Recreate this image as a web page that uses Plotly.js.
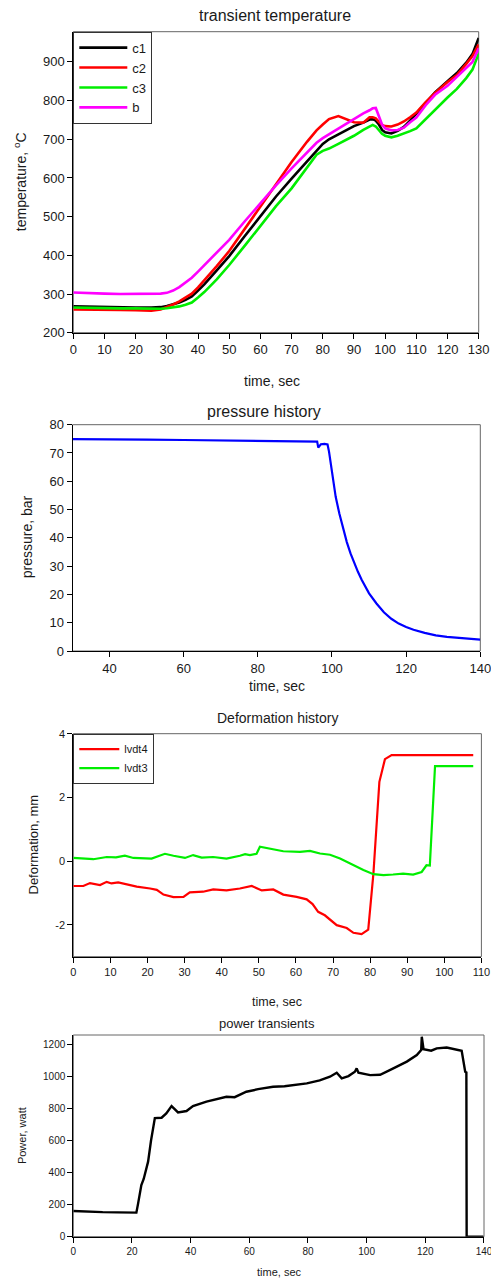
<!DOCTYPE html>
<html>
<head>
<meta charset="utf-8">
<script src="https://cdn.plot.ly/plotly-3.0.1.min.js"></script>
<style>
  html, body { margin: 0; padding: 0; background: #fff; }
  #chart { width: 491px; height: 1279px; }
</style>
</head>
<body>
<div id="chart"></div>
<script>
// ---------- Panel 1: transient temperature ----------
const tempTime = [0,5,10,15,20,25,28,30,32,34,36,38,40,42,46,50,55,60,65,70,75,78,80,82,85,88,90,93,95,96,97,98,99,100,102,104,106,108,110,113,116,120,123,126,128,130];
const tempC1 = [268,267,266,266,265,265,266,269,273,278,285,294,309,325,361,398,450,502,552,598,643,672,688,700,713,727,734,743,751,752,748,738,724,718,715,722,732,748,767,795,821,850,871,898,920,962];
const tempC2 = [260,260,259,259,258,257,260,266,273,281,290,301,317,335,372,411,469,527,585,641,694,723,738,752,760,750,744,743,757,757,754,745,737,734,733,738,746,757,769,796,820,848,866,895,915,945];
const tempC3 = [265,264,264,263,263,262,262,263,265,268,272,278,291,305,338,375,425,476,527,573,628,660,670,676,688,700,709,724,734,737,733,724,714,709,705,709,714,721,728,752,778,808,830,858,880,922];
const tempB  = [304,302,301,300,300,300,301,303,309,318,329,342,358,374,406,440,488,536,581,625,666,691,703,713,726,742,752,767,775,780,781,760,738,728,723,724,730,744,756,788,815,838,862,884,900,935];
const tempNames = ["c1","c2","c3","b"];

// ---------- Panel 2: pressure history ----------
const presTime = [30,35,40,50,60,70,80,90,95,96,96.3,96.6,97,98,98.8,99.2,99.6,100,100.5,101,102,103,104,105,106,107,108,110,112,114,116,118,120,122,125,128,131,134,137,140];
const presVal  = [74.9,74.9,74.8,74.7,74.6,74.5,74.3,74.2,74.1,74.0,71.9,72.5,73.1,73.2,73.0,70.5,66.5,63.0,58.5,54.5,48.5,43.2,38.5,34.5,31.0,28.0,25.2,20.4,16.8,13.7,11.4,9.7,8.5,7.5,6.4,5.5,5.0,4.6,4.3,4.0];

// ---------- Panel 3: deformation history ----------
const lvdt4Time = [0,2.7,4.5,7.2,9,10.3,12.1,14.4,17.1,20.7,22.5,24.3,27,29.7,31.4,35,37.7,41.3,44.9,48.1,50.8,53.9,56.6,60.2,62.9,64.5,66,67.8,71,73.7,75.5,77.7,79.5,80.9,82.5,84,85.8,107.8];
const lvdt4Val  = [-0.78,-0.78,-0.69,-0.75,-0.65,-0.70,-0.67,-0.73,-0.80,-0.86,-0.90,-1.05,-1.13,-1.12,-0.98,-0.96,-0.89,-0.92,-0.86,-0.78,-0.92,-0.89,-1.05,-1.12,-1.20,-1.35,-1.59,-1.70,-2.01,-2.10,-2.25,-2.29,-2.15,-0.38,2.49,3.20,3.33,3.33];
const lvdt3Time = [0,5.4,9,11.5,13.9,16.2,21.1,24.7,27,30.1,32.3,34.6,37.7,41.3,44.9,46.3,47.6,49.4,50.3,53.9,56.6,61.1,63.8,66.5,69.2,71.9,75.5,78.2,80.9,83.6,86.2,88.9,91.6,93.9,95.2,96.1,97.5,107.8];
const lvdt3Val  = [0.10,0.06,0.13,0.12,0.17,0.10,0.08,0.23,0.17,0.10,0.19,0.11,0.13,0.08,0.17,0.22,0.19,0.23,0.45,0.38,0.31,0.29,0.32,0.24,0.20,0.08,-0.13,-0.28,-0.41,-0.44,-0.42,-0.39,-0.42,-0.34,-0.13,-0.14,2.98,2.98];
const defTickVals = [-2, 0, 2, 4];
const defTickText = ["-2", "0", "2", "4"];

// ---------- Panel 4: power transients ----------
const powTime = [0,2,5,10,15,20,21.5,22.1,23.2,24,25.5,26.5,27.8,30.1,31.7,33.5,35.7,38.6,40.8,45.4,52.2,55,59,63,68.1,72,79.6,84,87.5,89.8,91.5,93.8,96,96.6,97.2,101.2,104.6,109.1,113.7,117.1,118.6,118.8,119.4,122,123.9,127.3,132.4,133.6,134,134.1,139.8];
const powVal  = [160,158,155,153,152,152,150,208,322,360,468,600,740,742,769,815,775,784,815,842,873,870,904,920,935,938,956,975,998,1023,988,1002,1029,1050,1023,1008,1010,1050,1092,1133,1165,1247,1169,1160,1175,1180,1160,1029,1025,0,0];

const FONT = 'Arial, "Liberation Sans", sans-serif';
const TXT = '#1a1a1a';

const traces = [
  {x: tempTime, y: tempC1, name: tempNames[0], line: {color: '#000000', width: 2.6}},
  {x: tempTime, y: tempC2, name: tempNames[1], line: {color: '#ff0000', width: 2.6}},
  {x: tempTime, y: tempC3, name: tempNames[2], line: {color: '#00ee00', width: 2.6}},
  {x: tempTime, y: tempB,  name: tempNames[3], line: {color: '#ff00ff', width: 2.6}},
].map(t => Object.assign(t, {type: 'scatter', mode: 'lines', xaxis: 'x', yaxis: 'y', legend: 'legend'}));

traces.push({type: 'scatter', mode: 'lines', x: presTime, y: presVal, xaxis: 'x2', yaxis: 'y2', showlegend: false, line: {color: '#0000ff', width: 2.2}});
traces.push({type: 'scatter', mode: 'lines', x: lvdt4Time, y: lvdt4Val, name: 'lvdt4', xaxis: 'x3', yaxis: 'y3', legend: 'legend2', line: {color: '#ff0000', width: 2.2}});
traces.push({type: 'scatter', mode: 'lines', x: lvdt3Time, y: lvdt3Val, name: 'lvdt3', xaxis: 'x3', yaxis: 'y3', legend: 'legend2', line: {color: '#00ee00', width: 2.2}});
traces.push({type: 'scatter', mode: 'lines', x: powTime, y: powVal, xaxis: 'x4', yaxis: 'y4', showlegend: false, line: {color: '#000000', width: 2.4}});

function ax(domain, range, extra, fs) {
  return Object.assign({
    domain: domain, range: range, showgrid: false, zeroline: false,
    showline: true, linecolor: '#000', linewidth: 1,
    ticks: 'outside', ticklen: 5, tickcolor: '#000', tickwidth: 1,
    ticklabeloverflow: 'allow',
    tickfont: {family: FONT, size: fs, color: TXT}, automargin: false
  }, extra);
}
const H = 1279, W = 491;
const py = p => 1 - p / H;
const px = p => p / W;

function ann(text, x, y, size, angle) {
  return {text: text, x: px(x), y: py(y), xref: 'paper', yref: 'paper', showarrow: false,
          xanchor: 'center', yanchor: 'middle', textangle: angle || 0,
          font: {family: FONT, size: size, color: TXT}};
}
function frame(xa, ya) {
  return {type: 'rect', xref: xa + ' domain', yref: ya + ' domain', x0: 0, x1: 1, y0: 0, y1: 1,
          line: {color: '#666', width: 1}, layer: 'below'};
}

const layout = {
  width: W, height: H, margin: {l: 0, r: 0, t: 0, b: 0},
  paper_bgcolor: '#fff', plot_bgcolor: '#fff',
  font: {family: FONT, color: TXT},
  xaxis:  ax([px(73.3), px(478.7)], [0, 130], {anchor: 'y', dtick: 10, tick0: 0}, 13),
  yaxis:  ax([py(332.7), py(31.7)], [200, 978], {anchor: 'x', dtick: 100, tick0: 200}, 13),
  xaxis2: ax([px(72.5), px(480.3)], [30, 140.01], {anchor: 'y2', dtick: 20, tick0: 0}, 13),
  yaxis2: ax([py(651), py(424.7)], [0, 80], {anchor: 'x2', dtick: 10, tick0: 0}, 13),
  xaxis3: ax([px(73.3), px(481.4)], [0, 110], {anchor: 'y3', dtick: 10, tick0: 0}, 11),
  yaxis3: ax([py(956.7), py(733.7)], [-3, 4], {anchor: 'x3', tickvals: defTickVals, ticktext: defTickText}, 11),
  xaxis4: ax([px(73.3), px(484)], [0, 140.01], {anchor: 'y4', dtick: 20, tick0: 0}, 10),
  yaxis4: ax([py(1236.7), py(1035)], [0, 1258], {anchor: 'x4', dtick: 200, tick0: 0}, 10),
  legend: {x: px(73.3), y: py(31.7), xanchor: 'left', yanchor: 'top', bgcolor: '#fff',
           bordercolor: '#333', borderwidth: 1, font: {family: FONT, size: 13, color: TXT},
           tracegroupgap: 0, itemwidth: 48},
  legend2: {x: px(73.3), y: py(733.7), xanchor: 'left', yanchor: 'top', bgcolor: '#fff',
            bordercolor: '#333', borderwidth: 1, font: {family: FONT, size: 11, color: TXT},
            tracegroupgap: 0, itemwidth: 40},
  shapes: [frame('x', 'y'), frame('x2', 'y2'), frame('x3', 'y3'), frame('x4', 'y4')],
  annotations: [
    ann('transient temperature', 274.7, 15, 16),
    ann('time, sec', 271.7, 380.7, 14),
    ann('temperature, <sup>o</sup>C', 19.5, 181.7, 14, -90),
    ann('pressure history', 264.3, 411, 16),
    ann('time, sec', 277.3, 686, 14),
    ann('pressure, bar', 26.5, 536.7, 14, -90),
    ann('Deformation history', 277.3, 718.3, 14),
    ann('time, sec', 277.3, 1002, 12.5),
    ann('Deformation, mm', 32.5, 845, 13, -90),
    ann('power transients', 266.7, 1023.3, 13),
    ann('time, sec', 279.3, 1271.7, 11),
    ann('Power, watt', 22.8, 1135.3, 11, -90)
  ]
};

Plotly.newPlot('chart', traces, layout, {staticPlot: true, displayModeBar: false});
</script>
</body>
</html>
